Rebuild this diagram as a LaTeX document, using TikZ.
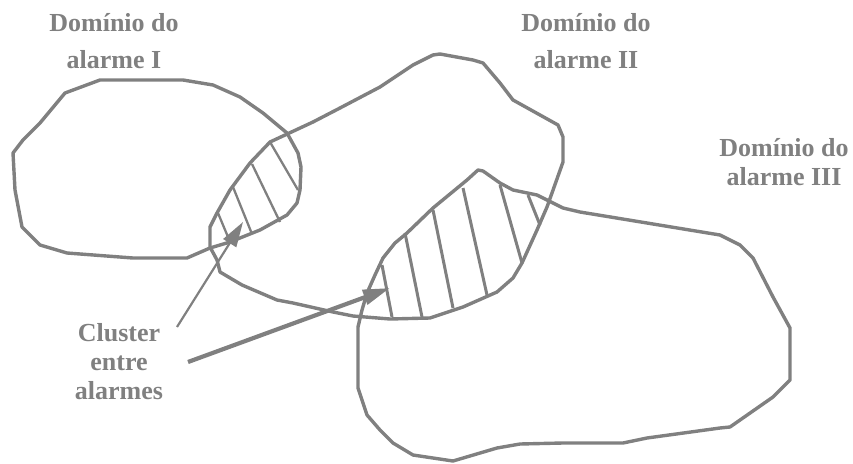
\documentclass[tikz,border=0pt]{standalone}
\usepackage{fontspec}
\setmainfont{Liberation Serif}
\usetikzlibrary{arrows.meta}
\definecolor{ink}{RGB}{128,128,128}
\begin{document}
\begin{tikzpicture}[x=1pt,y=-1pt,
  blob/.style={draw=ink,line width=3.4pt,line join=round,line cap=round},
  hatchline/.style={draw=ink,line width=3pt},
  lbl/.style={text=ink,font=\bfseries\fontsize{26}{37}\selectfont,align=center,inner sep=0pt},
  lbltight/.style={text=ink,font=\bfseries\fontsize{26}{29}\selectfont,align=center,inner sep=0pt},
  thinarrow/.style={draw=ink,line width=2.2pt,-{Triangle[length=25pt,width=15pt]}},
  thickarrow/.style={draw=ink,line width=4.2pt,-{Triangle[length=27pt,width=15pt]}}]
\useasboundingbox (0,0) rectangle (853,463);

% Domain I
\draw[blob] (65,93) -- (100,80) -- (183,80) -- (213,85) -- (240,97) -- (263,113) -- (287,133)
  -- (298,153) -- (301,167) -- (300,190) -- (297,203) -- (287,215) -- (260,230) -- (230,242)
  -- (210,248) -- (187,258) -- (133,258) -- (67,253) -- (40,245) -- (22,227) -- (15,190)
  -- (13,153) -- (23,140) -- (40,123) -- cycle;

% Domain II
\draw[blob] (440,54) -- (473,60) -- (483,63) -- (500,83) -- (513,100) -- (540,115) -- (558,125)
  -- (563,137) -- (563,162) -- (547,207) -- (537,230) -- (522,263) -- (513,278) -- (497,292)
  -- (463,307) -- (430,318) -- (390,319) -- (353,316) -- (333,312) -- (293,303) -- (277,300)
  -- (242,285) -- (220,272) -- (217,260) -- (210,247) -- (210,227) -- (217,213) -- (230,190)
  -- (250,163) -- (270,142) -- (313,122) -- (340,108) -- (380,87) -- (413,65) -- (433,55) -- cycle;

% Domain III
\draw[blob] (467,180) -- (478,170) -- (483,171) -- (500,183) -- (513,190) -- (537,195) -- (563,208)
  -- (580,212) -- (720,235) -- (740,245) -- (753,258) -- (773,297) -- (790,328) -- (790,380)
  -- (773,397) -- (730,427) -- (720,428) -- (647,438) -- (623,443) -- (563,443) -- (520,444)
  -- (497,448) -- (453,461) -- (413,455) -- (393,443) -- (380,430) -- (367,415) -- (358,388)
  -- (358,327) -- (362,310) -- (367,293) -- (375,275) -- (383,258) -- (395,243) -- (407,233)
  -- (433,208) -- cycle;

% Hatching, cluster I/II
\draw[hatchline,line width=2.3pt] (270,142) -- (298,190);
\draw[hatchline,line width=2.3pt] (252,164) -- (280,222);
\draw[hatchline,line width=2.3pt] (233,187) -- (252,234);
\draw[hatchline,line width=2.3pt] (218,213) -- (228,237);

% Hatching, cluster II/III
\draw[hatchline] (382,265) -- (392,317);
\draw[hatchline] (405,233) -- (422,317);
\draw[hatchline] (433,210) -- (453,308);
\draw[hatchline] (463,188) -- (487,295);
\draw[hatchline] (500,185) -- (522,263);
\draw[hatchline] (528,195) -- (540,225);

% Labels
\node[lbl] (l1) at (114,41) {Domínio do\\alarme I};
\node[lbl] (l2) at (586,41) {Domínio do\\alarme II};
\node[lbltight] (l3) at (784,162) {Domínio do\\alarme III};
\node[lbltight] (cl) at (119,362) {Cluster\\entre\\alarmes};

% Arrows
\coordinate (a1s) at (177,327);
\coordinate (a1t) at (243,222);
\coordinate (a2s) at (188,362);
\coordinate (a2t) at (390,288);
\draw[thinarrow] (a1s) -- (a1t);
\draw[thickarrow] (a2s) -- (a2t);
\end{tikzpicture}
\end{document}
